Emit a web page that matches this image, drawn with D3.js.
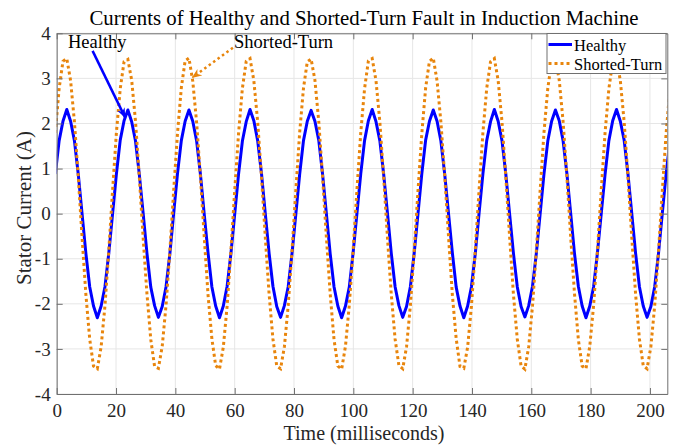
<!DOCTYPE html>
<html lang="en">
<head>
<meta charset="UTF-8">
<title>Currents of Healthy and Shorted-Turn Fault in Induction Machine</title>
<script src="https://d3js.org/d3.v7.min.js"></script>
<style>
    body {
        margin: 0;
        background: #fff;
        font-family: "Liberation Serif", "Times New Roman", serif;
    }
    svg { display: block; }
    .grid line { stroke: #e6e6e6; stroke-width: 1; }
    .axis path, .axis line { stroke: #707070; }
    .axis text { fill: #262626; font-size: 19px; font-family: "Liberation Serif", serif; }
</style>
</head>
<body>
<svg width="675" height="445"></svg>
<script>
// stator current samples, one every ~1.29 ms (16 samples per mains cycle)
const sampleStart = -0.46, sampleStep = 1.287;

const healthy = [
    0.88, 1.62, 2.05, 2.31, 2.05, 1.62, 0.88, 0.00, -0.88, -1.62, -2.05, -2.31, -2.05, -1.62, -0.88, 0.00,
    0.88, 1.63, 2.06, 2.30, 2.04, 1.61, 0.87, 0.01, -0.88, -1.63, -2.04, -2.30, -2.06, -1.62, -0.89, 0.01,
    0.89, 1.62, 2.05, 2.30, 2.05, 1.62, 0.88, -0.01, -0.87, -1.62, -2.05, -2.31, -2.05, -1.61, -0.88, 0.00,
    0.88, 1.61, 2.04, 2.31, 2.06, 1.62, 0.89, 0.00, -0.88, -1.61, -2.06, -2.30, -2.04, -1.62, -0.88, -0.01,
    0.87, 1.62, 2.05, 2.29, 2.05, 1.63, 0.88, 0.00, -0.89, -1.62, -2.05, -2.31, -2.05, -1.63, -0.87, 0.00,
    0.88, 1.62, 2.06, 2.31, 2.04, 1.62, 0.88, 0.01, -0.88, -1.62, -2.04, -2.30, -2.06, -1.62, -0.88, 0.00,
    0.89, 1.63, 2.05, 2.30, 2.05, 1.61, 0.87, 0.00, -0.87, -1.63, -2.05, -2.31, -2.05, -1.62, -0.89, 0.01,
    0.88, 1.62, 2.04, 2.31, 2.05, 1.62, 0.88, -0.01, -0.88, -1.62, -2.06, -2.29, -2.04, -1.61, -0.88, 0.00,
    0.88, 1.61, 2.05, 2.30, 2.06, 1.62, 0.89, 0.00, -0.89, -1.61, -2.05, -2.31, -2.05, -1.62, -0.87, 0.00,
    0.87, 1.62, 2.06, 2.31, 2.05, 1.63, 0.88, 0.00, -0.88, -1.62, -2.05, -2.30, -2.06, -1.62, -0.88, 0.01,
    0.88, 1.62
];

const shortedTurn = [
    1.79, 2.78, 3.38, 3.44, 2.95, 2.04, 0.82, -0.52, -1.79, -2.78, -3.38, -3.44, -2.95, -2.04, -0.82, 0.52,
    1.80, 2.77, 3.37, 3.42, 2.96, 2.05, 0.81, -0.53, -1.78, -2.79, -3.39, -3.43, -2.94, -2.03, -0.83, 0.51,
    1.78, 2.79, 3.39, 3.45, 2.94, 2.03, 0.83, -0.51, -1.80, -2.77, -3.37, -3.45, -2.96, -2.05, -0.81, 0.53,
    1.79, 2.78, 3.38, 3.44, 2.95, 2.04, 0.82, -0.52, -1.79, -2.78, -3.38, -3.44, -2.95, -2.04, -0.82, 0.52,
    1.80, 2.78, 3.37, 3.43, 2.96, 2.05, 0.82, -0.52, -1.78, -2.79, -3.38, -3.45, -2.94, -2.03, -0.82, 0.52,
    1.79, 2.77, 3.39, 3.44, 2.95, 2.04, 0.81, -0.53, -1.79, -2.78, -3.37, -3.44, -2.95, -2.04, -0.83, 0.51,
    1.78, 2.79, 3.38, 3.45, 2.94, 2.03, 0.83, -0.51, -1.80, -2.77, -3.39, -3.43, -2.96, -2.05, -0.81, 0.53,
    1.79, 2.78, 3.37, 3.44, 2.95, 2.04, 0.82, -0.52, -1.79, -2.78, -3.38, -3.45, -2.95, -2.04, -0.82, 0.52,
    1.80, 2.78, 3.38, 3.43, 2.96, 2.05, 0.82, -0.52, -1.78, -2.79, -3.38, -3.44, -2.94, -2.03, -0.82, 0.52,
    1.79, 2.77, 3.38, 3.44, 2.95, 2.04, 0.81, -0.53, -1.79, -2.78, -3.37, -3.44, -2.95, -2.04, -0.83, 0.51,
    1.79, 2.78
];

const seriesNames = ["Healthy", "Shorted-Turn"];
const xTicks = [0, 20, 40, 60, 80, 100, 120, 140, 160, 180, 200];
const yTicks = [-4, -3, -2, -1, 0, 1, 2, 3, 4];

const titleText = "Currents of Healthy and Shorted-Turn Fault in Induction Machine";
const xLabel = "Time (milliseconds)";
const yLabel = "Stator Current (A)";

const blue = "#0000ff", orange = "#e8850c";

let width = 675, height = 445;
let margin = { top: 33.3, right: 7.7, bottom: 51, left: 56.7 };
let plotW = width - margin.left - margin.right;
let plotH = height - margin.top - margin.bottom;

let svg = d3.select("svg");

let xscale = d3.scaleLinear().domain([0, 205.85]).range([margin.left, width - margin.right]);
let yscale = d3.scaleLinear().domain([-4, 4]).range([height - margin.bottom, margin.top]);

// plain hyphen for negatives, like the original figure
let tickFmt = d => String(d);

// grid
let grid = svg.append("g").attr("class", "grid");
grid.selectAll(".gx").data(xTicks).join("line")
    .attr("x1", d => xscale(d)).attr("x2", d => xscale(d))
    .attr("y1", margin.top).attr("y2", height - margin.bottom);
grid.selectAll(".gy").data(yTicks).join("line")
    .attr("x1", margin.left).attr("x2", width - margin.right)
    .attr("y1", d => yscale(d)).attr("y2", d => yscale(d));

// clip
svg.append("clipPath").attr("id", "plot-clip")
    .append("rect")
    .attr("x", margin.left).attr("y", margin.top)
    .attr("width", plotW).attr("height", plotH);

let line = d3.line()
    .x((d, i) => xscale(sampleStart + i * sampleStep))
    .y(d => yscale(d));

svg.append("path")
    .datum(healthy)
    .attr("clip-path", "url(#plot-clip)")
    .attr("fill", "none")
    .attr("stroke", blue)
    .attr("stroke-width", 3)
    .attr("stroke-linejoin", "round")
    .attr("d", line);

svg.append("path")
    .datum(shortedTurn)
    .attr("clip-path", "url(#plot-clip)")
    .attr("fill", "none")
    .attr("stroke", orange)
    .attr("stroke-width", 3)
    .attr("stroke-dasharray", "3,3")
    .attr("d", line);

// axes (box with inward ticks on all sides)
svg.append("g").attr("class", "axis")
    .attr("transform", `translate(0, ${height - margin.bottom})`)
    .call(d3.axisBottom(xscale).tickValues(xTicks).tickFormat(tickFmt).tickSize(-6).tickSizeOuter(0).tickPadding(10));
svg.append("g").attr("class", "axis")
    .attr("transform", `translate(${margin.left}, 0)`)
    .call(d3.axisLeft(yscale).tickValues(yTicks).tickFormat(tickFmt).tickSize(-6).tickSizeOuter(0).tickPadding(6));
svg.append("g").attr("class", "axis")
    .attr("transform", `translate(0, ${margin.top})`)
    .call(d3.axisTop(xscale).tickValues(xTicks).tickSize(-6).tickSizeOuter(0).tickFormat(""));
svg.append("g").attr("class", "axis")
    .attr("transform", `translate(${width - margin.right}, 0)`)
    .call(d3.axisRight(yscale).tickValues(yTicks).tickSize(-6).tickSizeOuter(0).tickFormat(""));

// title and labels
svg.append("text")
    .attr("x", 364).attr("y", 25)
    .attr("text-anchor", "middle")
    .attr("font-size", 20.8).attr("fill", "#000")
    .text(titleText);

svg.append("text")
    .attr("x", 364).attr("y", 440)
    .attr("text-anchor", "middle")
    .attr("font-size", 20).attr("fill", "#262626")
    .text(xLabel);

svg.append("text")
    .attr("transform", "rotate(-90)")
    .attr("x", -208).attr("y", 31)
    .attr("text-anchor", "middle")
    .attr("font-size", 21).attr("fill", "#262626")
    .text(yLabel);

// annotations with arrows
let defs = svg.append("defs");
[["head-blue", blue], ["head-orange", orange]].forEach(([id, c]) => {
    defs.append("marker")
        .attr("id", id)
        .attr("markerUnits", "userSpaceOnUse")
        .attr("viewBox", "0 0 10 10")
        .attr("refX", 9).attr("refY", 5)
        .attr("markerWidth", 10).attr("markerHeight", 10)
        .attr("orient", "auto")
        .append("path")
        .attr("d", "M0,1 L10,5 L0,9 L3,5 Z")
        .attr("fill", c);
});

svg.append("line")
    .attr("x1", xscale(12.1)).attr("y1", yscale(3.61))
    .attr("x2", xscale(23.0)).attr("y2", yscale(2.14))
    .attr("stroke", blue).attr("stroke-width", 2.5)
    .attr("marker-end", "url(#head-blue)");

svg.append("line")
    .attr("x1", xscale(59.4)).attr("y1", yscale(3.68))
    .attr("x2", xscale(45.8)).attr("y2", yscale(3.02))
    .attr("stroke", orange).attr("stroke-width", 2.5)
    .attr("stroke-dasharray", "2.5,3")
    .attr("marker-end", "url(#head-orange)");

svg.append("text")
    .attr("x", xscale(3.8)).attr("y", yscale(3.68))
    .attr("font-size", 18.5).attr("fill", "#000")
    .text(seriesNames[0]);

svg.append("text")
    .attr("x", xscale(59.8)).attr("y", yscale(3.68))
    .attr("font-size", 18.5).attr("fill", "#000")
    .text(seriesNames[1]);

// legend
let legend = svg.append("g").attr("transform", "translate(547, 33.5)");
legend.append("rect")
    .attr("width", 119).attr("height", 40)
    .attr("fill", "#fff").attr("stroke", "#707070").attr("stroke-width", 1);

seriesNames.forEach((name, i) => {
    let y = 11 + i * 19;
    legend.append("line")
        .attr("x1", 1.5).attr("x2", 25)
        .attr("y1", y).attr("y2", y)
        .attr("stroke", i === 0 ? blue : orange)
        .attr("stroke-width", 3)
        .attr("stroke-dasharray", i === 0 ? null : "3,3");
    legend.append("text")
        .attr("x", 27).attr("y", y + 6)
        .attr("font-size", 16.5).attr("fill", "#000")
        .text(name);
});
</script>
</body>
</html>
